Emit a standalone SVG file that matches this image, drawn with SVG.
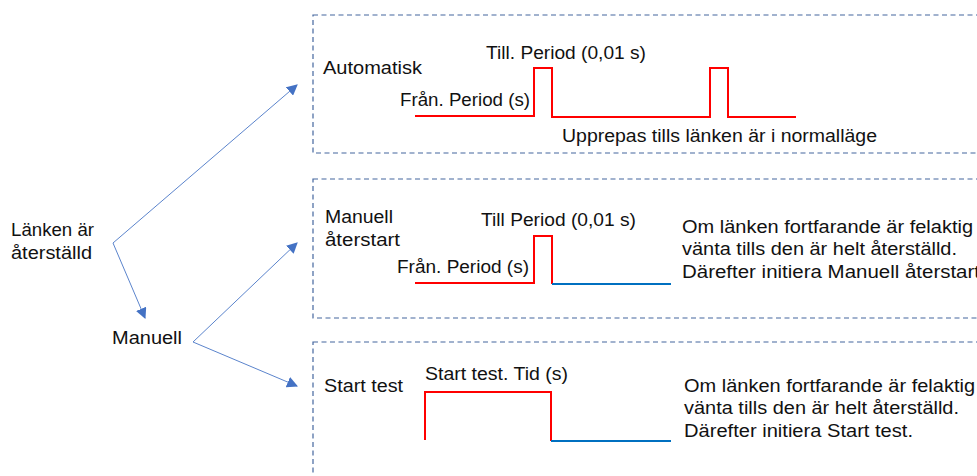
<svg xmlns="http://www.w3.org/2000/svg" width="977" height="476" viewBox="0 0 977 476">
  <style>
    text { font-family: "Liberation Sans", Arial, sans-serif; font-size: 17.5px; fill: #111; }
    .frame { fill: none; stroke: #44669e; stroke-width: 1.2; stroke-dasharray: 5 3.5; }
    .high { fill: none; stroke: #ff0000; stroke-width: 2; }
    .rest { fill: none; stroke: #0070c0; stroke-width: 2; }
    .link { stroke: #5b84cc; stroke-width: 1; fill: none; }
  </style>
  <defs>
    <marker id="head" viewBox="0 0 10 10" refX="9" refY="5" markerWidth="11" markerHeight="11" markerUnits="userSpaceOnUse" orient="auto">
      <path d="M0,0 L10,5 L0,10 z" fill="#4472c4"/>
    </marker>
  </defs>

  <rect width="977" height="476" fill="#ffffff"/>

  <!-- root state -->
  <g id="node-reset">
    <text x="11" y="236" textLength="83" lengthAdjust="spacingAndGlyphs">Länken är</text>
    <text x="11" y="259" textLength="81" lengthAdjust="spacingAndGlyphs">återställd</text>
  </g>

  <g id="node-manual">
    <text x="112" y="344" textLength="70" lengthAdjust="spacingAndGlyphs">Manuell</text>
  </g>

  <!-- automatic restart panel -->
  <g id="node-auto">
    <rect class="frame" x="313" y="15" width="700" height="138"/>
    <text x="323" y="74" textLength="99" lengthAdjust="spacingAndGlyphs">Automatisk</text>
    <text x="486" y="59" textLength="160" lengthAdjust="spacingAndGlyphs">Till. Period (0,01 s)</text>
    <text x="400" y="106" textLength="130" lengthAdjust="spacingAndGlyphs">Från. Period (s)</text>
    <text x="562" y="142" textLength="315" lengthAdjust="spacingAndGlyphs">Upprepas tills länken är i normalläge</text>
    <polyline class="high" points="415,116 534,116 534,68 552,68 552,117 710,117 710,68 728,68 728,117 796,117"/>
  </g>

  <!-- manual restart panel -->
  <g id="node-manual-restart">
    <rect class="frame" x="313" y="179" width="700" height="139"/>
    <text x="325" y="223" textLength="68" lengthAdjust="spacingAndGlyphs">Manuell</text>
    <text x="325" y="246" textLength="75" lengthAdjust="spacingAndGlyphs">återstart</text>
    <text x="481" y="226" textLength="155" lengthAdjust="spacingAndGlyphs">Till Period (0,01 s)</text>
    <text x="397" y="273" textLength="132" lengthAdjust="spacingAndGlyphs">Från. Period (s)</text>
    <polyline class="high" points="415,283 534,283 534,236 552,236 552,284"/>
    <line class="rest" x1="552" y1="284" x2="671" y2="284"/>
    <text x="682" y="233" textLength="291" lengthAdjust="spacingAndGlyphs">Om länken fortfarande är felaktig</text>
    <text x="682" y="255" textLength="275" lengthAdjust="spacingAndGlyphs">vänta tills den är helt återställd.</text>
    <text x="682" y="278" textLength="298" lengthAdjust="spacingAndGlyphs">Därefter initiera Manuell återstart</text>
  </g>

  <!-- start test panel -->
  <g id="node-start-test">
    <rect class="frame" x="313" y="342" width="700" height="160"/>
    <text x="324" y="392" textLength="79" lengthAdjust="spacingAndGlyphs">Start test</text>
    <text x="425" y="380" textLength="143" lengthAdjust="spacingAndGlyphs">Start test. Tid (s)</text>
    <polyline class="high" points="425,440 425,392 551,392 551,441"/>
    <line class="rest" x1="551" y1="441" x2="671" y2="441"/>
    <text x="684" y="392" textLength="291" lengthAdjust="spacingAndGlyphs">Om länken fortfarande är felaktig</text>
    <text x="684" y="414" textLength="275" lengthAdjust="spacingAndGlyphs">vänta tills den är helt återställd.</text>
    <text x="684" y="437" textLength="229" lengthAdjust="spacingAndGlyphs">Därefter initiera Start test.</text>
  </g>

  <!-- transitions -->
  <g id="connectors">
    <line class="link" x1="113" y1="243" x2="297" y2="85" marker-end="url(#head)"/>
    <line class="link" x1="113" y1="243" x2="145" y2="318" marker-end="url(#head)"/>
    <line class="link" x1="193" y1="342" x2="297" y2="243" marker-end="url(#head)"/>
    <line class="link" x1="193" y1="342" x2="297" y2="386" marker-end="url(#head)"/>
  </g>
</svg>
